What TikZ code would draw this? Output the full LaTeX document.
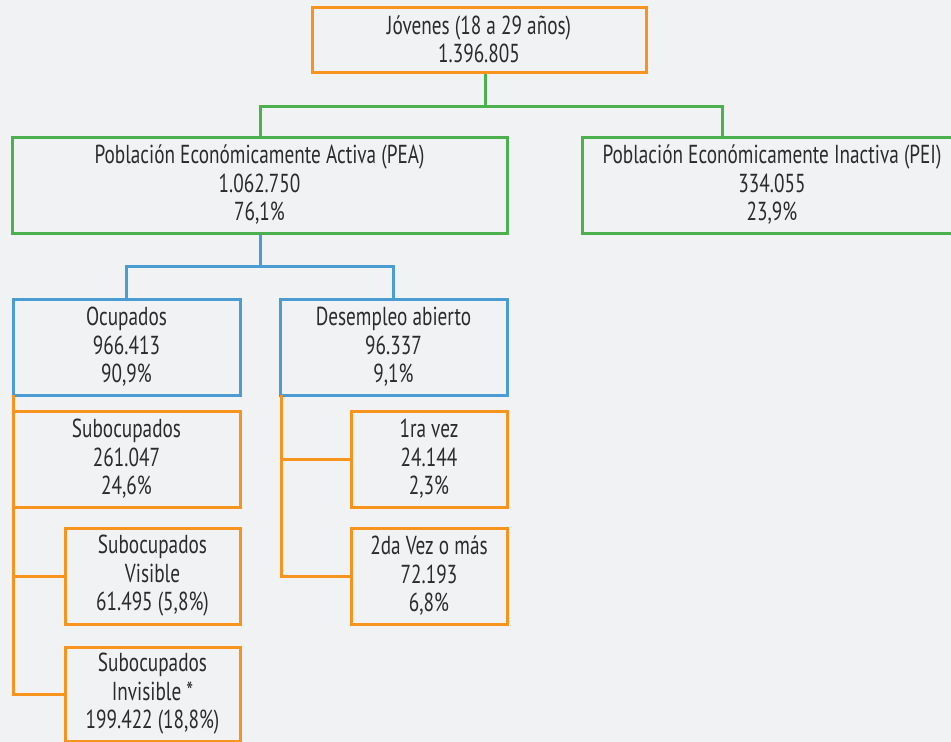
\documentclass[tikz,border=0pt]{standalone}
\usepackage{fontspec}
\setmainfont[FakeStretch=0.74]{PT Sans}
\definecolor{bgc}{HTML}{F1F2F4}
\definecolor{orc}{HTML}{F7941D}
\definecolor{grc}{HTML}{4DB04F}
\definecolor{blc}{HTML}{4B9CD3}
\definecolor{txc}{HTML}{2B2B2B}
\begin{document}
\begin{tikzpicture}[x=1pt,y=-1pt,
  box/.style={draw=#1, line width=3pt, rectangle, inner sep=0pt, align=center, text=txc,
    font=\fontsize{26}{28.5}\selectfont},
  con/.style={draw=#1, line width=3pt}]
\useasboundingbox (0,0) rectangle (951,742);
\fill[bgc] (0,0) rectangle (951,742);
\clip (0,0) rectangle (951,742);
% nodes
\node[box=orc, minimum width=334pt, minimum height=65pt] (top) at (479,39.5) {Jóvenes (18 a 29 años)\\1.396.805};
\node[box=grc, minimum width=495pt, minimum height=96pt] (pea) at (259.5,185) {Población Económicamente Activa (PEA)\\1.062.750\\76,1\%};
\node[box=grc, minimum width=380pt, minimum height=96pt] (pei) at (772,185) {Población Económicamente Inactiva (PEI)\\334.055\\23,9\%};
\node[box=blc, minimum width=227pt, minimum height=96pt] (ocu) at (126.5,347) {Ocupados\\966.413\\90,9\%};
\node[box=blc, minimum width=227pt, minimum height=96pt] (des) at (393.5,347) {Desempleo abierto\\96.337\\9,1\%};
\node[box=orc, minimum width=227pt, minimum height=96pt] (sub) at (126.5,459) {Subocupados\\261.047\\24,6\%};
\node[box=orc, minimum width=175pt, minimum height=96pt] (vis) at (152.5,576) {Subocupados\\Visible\\61.495 (5,8\%)};
\node[box=orc, minimum width=175pt, minimum height=94pt] (inv) at (152.5,694) {Subocupados\\Invisible *\\199.422 (18,8\%)};
\node[box=orc, minimum width=156pt, minimum height=96pt] (pri) at (429,459) {1ra vez\\24.144\\2,3\%};
\node[box=orc, minimum width=156pt, minimum height=96pt] (seg) at (429,576) {2da Vez o más\\72.193\\6,8\%};
% junction coordinates
\coordinate (gj) at (485,106);
\coordinate (gl) at (260,106);
\coordinate (gr) at (722,106);
\coordinate (bj) at (260,266);
\coordinate (bl) at (126.5,266);
\coordinate (br) at (393.5,266);
\coordinate (ot) at (13,395);
\coordinate (ob) at (13,694);
\coordinate (dt) at (281,395);
\coordinate (db) at (281,576);
% connectors
\draw[con=grc] (top.south -| gj) -- (gj);
\draw[con=grc] (pea.north -| gl) -- (gl) -- (gr) -- (pei.north -| gr);
\draw[con=blc] (pea.south -| bj) -- (bj);
\draw[con=blc] (ocu.north) -- (bl) -- (br) -- (des.north);
\draw[con=orc] (ot) -- (ob) -- (inv.west);
\draw[con=orc] (vis.west) -- (vis.west -| ot);
\draw[con=orc] (dt) -- (db) -- (seg.west);
\draw[con=orc] (pri.west) -- (pri.west -| dt);
\end{tikzpicture}
\end{document}
